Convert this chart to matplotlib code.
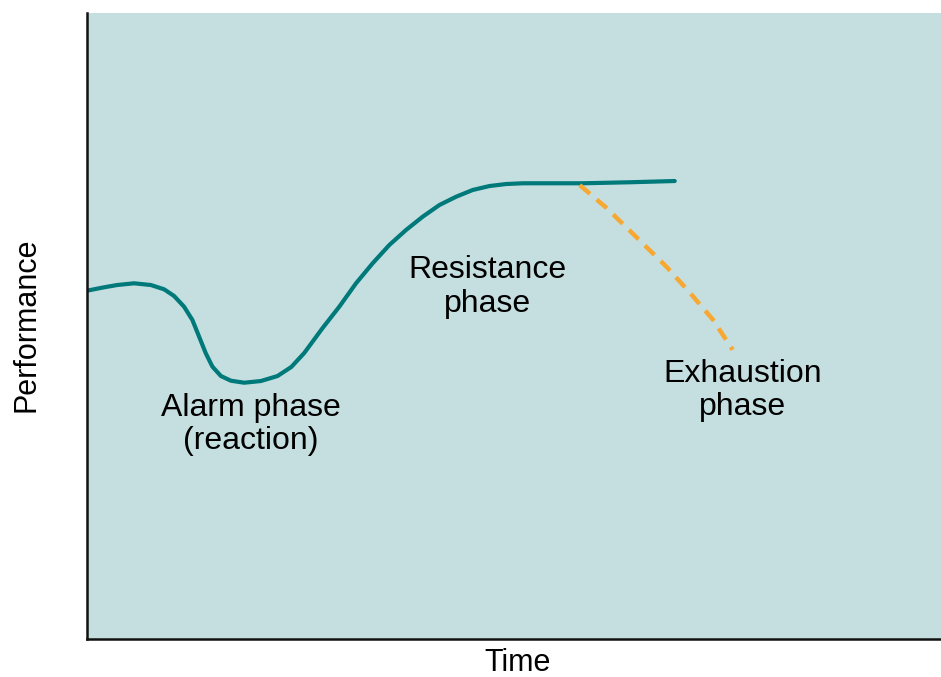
import matplotlib.pyplot as plt

# performance curve (time, performance), axes 0..100
t_curve = [0, 1.99, 3.55, 5.51, 7.47, 9.03, 10.20, 11.37, 12.34, 13.13, 13.91,
           14.69, 15.68, 16.85, 18.41, 20.36, 22.31, 23.92, 25.44, 27.59, 29.54,
           31.50, 33.45, 35.40, 37.36, 39.31, 41.27, 43.22, 45.17, 47.13, 49.08,
           51.03, 54.95, 58.07, 63.54, 68.82]
p_curve = [55.64, 56.18, 56.55, 56.82, 56.55, 55.86, 54.79, 53.08, 50.96, 48.29,
           45.64, 43.50, 42.01, 41.26, 40.94, 41.21, 42.01, 43.45, 45.69, 49.68,
           53.08, 56.82, 60.02, 62.94, 65.34, 67.46, 69.33, 70.65, 71.73, 72.36,
           72.68, 72.80, 72.80, 72.80, 72.96, 73.16]

# exhaustion branch (dashed)
t_exh = [57.7, 60.8, 64.7, 67.9, 70.6, 73.3, 75.6]
p_exh = [72.5, 68.9, 63.7, 59.4, 55.3, 51.0, 46.2]

labels = [("Alarm phase\n(reaction)", 19.2, 34.3),
          ("Resistance\nphase", 46.9, 56.2),
          ("Exhaustion\nphase", 76.8, 39.7)]

plt.rcParams['font.family'] = ['Liberation Sans', 'DejaVu Sans']

fig = plt.figure(figsize=(9.41, 6.77), dpi=100)
ax = fig.add_axes([87/941, 38/677, 1 - 87/941, 626/677])
ax.set_facecolor('#c5dfe0')

ax.plot(t_curve, p_curve, color='#00797a', linewidth=3,
        solid_capstyle='round', solid_joinstyle='round')
ax.plot(t_exh, p_exh, color='#f7a832', linewidth=3.2, dashes=(3, 2))

for txt, x, y in labels:
    ax.text(x, y, txt, ha='center', va='center', fontsize=23, linespacing=1.15)

ax.set_xlim(0, 100)
ax.set_ylim(0, 100)
ax.set_xticks([])
ax.set_yticks([])
for s in ['top', 'right']:
    ax.spines[s].set_visible(False)
for s in ['left', 'bottom']:
    ax.spines[s].set_linewidth(1.8)
    ax.spines[s].set_color('#111111')

fig.text(518/941, 1 - 663/677, "Time", ha='center', va='center', fontsize=22)
fig.text(27/941, 1 - 325/677, "Performance", ha='center', va='center',
         rotation=90, fontsize=22)

fig.savefig('out.png', dpi=100)
